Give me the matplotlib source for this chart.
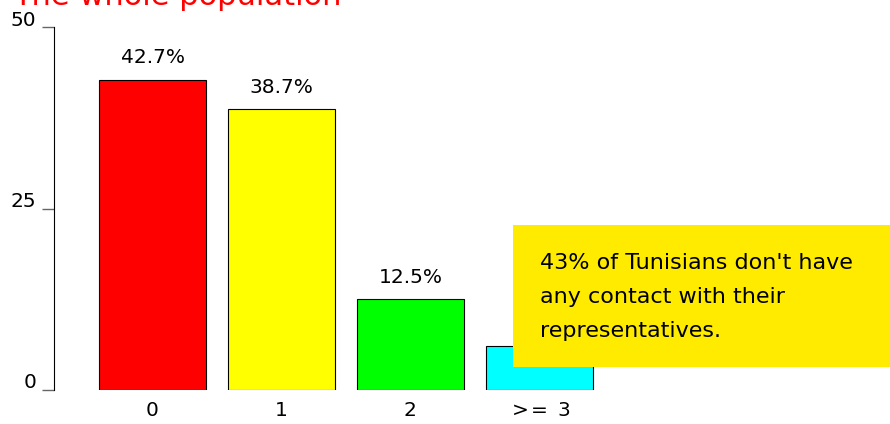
import numpy as np
import matplotlib.pyplot as plt
from matplotlib.patches import Rectangle
from matplotlib.transforms import ScaledTranslation

categories = ['0', '1', '2', r'$>\!\!=$ 3']
values = [42.7, 38.7, 12.5, 6.1]
colors = ['#ff0000', '#ffff00', '#00ff00', '#00ffff']
yticks = [0, 25, 50]
title = 'The whole population'
note = "43% of Tunisians don't have\nany contact with their\nrepresentatives."

plt.rcParams['font.family'] = 'DejaVu Sans'
plt.rcParams['mathtext.fontset'] = 'dejavusans'

fig = plt.figure(figsize=(8.9, 4.24), dpi=100)
ax = fig.add_axes([54/890, 34/424, 1 - 54/890, 363/424])

x = np.arange(len(categories))
bars = ax.bar(x, values, width=0.83, color=colors, edgecolor='black', linewidth=0.8)
for b, v in zip(bars, values):
    ax.annotate(f'{v}%', (b.get_x() + b.get_width()/2, v), xytext=(0, 9),
                textcoords='offset points', ha='center', va='bottom', fontsize=14.5)

ax.set_xlim(-0.764, 5.72)
ax.set_ylim(0, 50)
ax.set_yticks(yticks)
ax.set_xticks(x)
ax.set_xticklabels(categories, fontsize=14.5)
ax.tick_params(axis='x', length=0, pad=8)
ax.tick_params(axis='y', length=8.6, width=1, color='#666666', labelsize=14.5, pad=4)
# y labels sit just above their ticks
for lab in ax.get_yticklabels():
    lab.set_va('baseline')
    lab.set_transform(lab.get_transform() + ScaledTranslation(0, 1.5/100, fig.dpi_scale_trans))
for s in ['top', 'right', 'bottom']:
    ax.spines[s].set_visible(False)

fig.text(13/890, 1 - 5/424, title, color='red', fontsize=22, va='baseline')

fig.patches.append(Rectangle((513/890, 1 - 367/424), 377/890, 142/424,
                             transform=fig.transFigure, facecolor='#ffeb00',
                             edgecolor='none', zorder=5))
fig.text(540/890, 1 - 253/424, note, fontsize=16, va='top', linespacing=1.88, zorder=6)

fig.savefig('out.png', dpi=100)
